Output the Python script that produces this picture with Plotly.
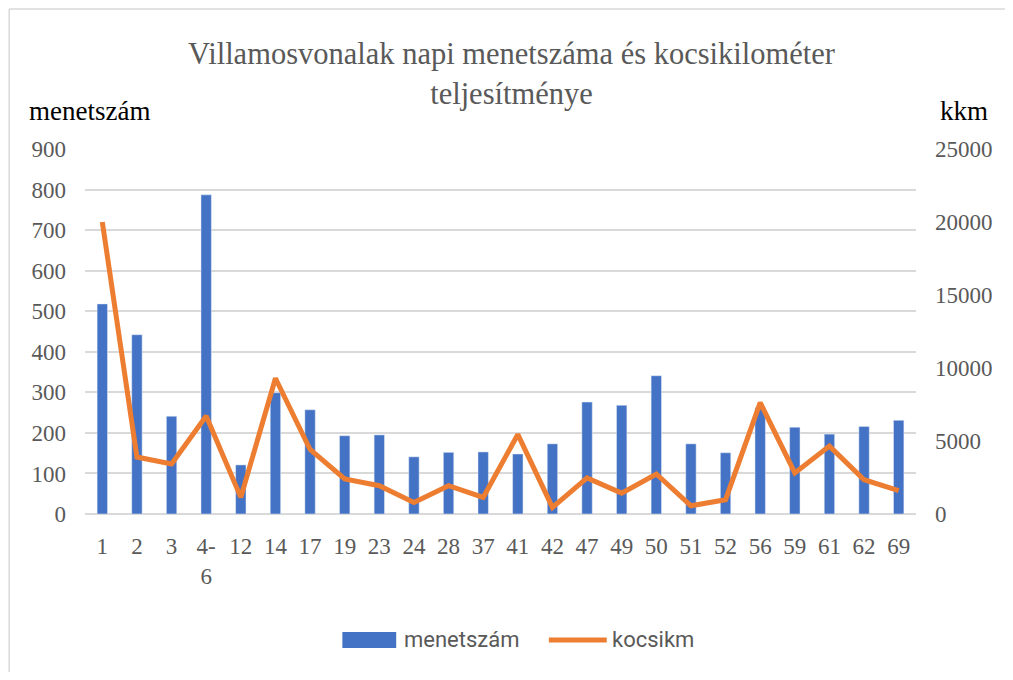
import plotly.graph_objects as go

# -----------------------------
# Data
# -----------------------------

lines = ["1", "2", "3", "4-6", "12", "14", "17", "19", "23", "24", "28", "37",
         "41", "42", "47", "49", "50", "51", "52", "56", "59", "61", "62", "69"]

menetszam = [518, 442, 241, 787, 121, 299, 257, 193, 195, 141, 152, 153,
             148, 173, 276, 268, 341, 173, 151, 262, 214, 197, 216, 231]

kocsikm = [20000, 3900, 3430, 6710, 1140, 9300, 4420, 2400, 1940, 790, 1940, 1140,
           5450, 450, 2470, 1430, 2740, 560, 980, 7630, 2810, 4650, 2350, 1600]

tick_labels = [c.replace("-", "-<br>") for c in lines]

# -----------------------------
# Styles
# -----------------------------

SERIF = "Liberation Serif, Times New Roman, serif"
SANS = "Liberation Sans Narrow, Roboto, sans-serif"
GRAY = "#595959"
BLUE = "#4472C4"
ORANGE = "#ED7D31"

fig = go.Figure()

fig.add_trace(go.Bar(
    x=lines, y=menetszam, name="menetszám",
    marker=dict(color=BLUE), width=0.3, yaxis="y"
))

fig.add_trace(go.Scatter(
    x=lines, y=kocsikm, name="kocsikm", mode="lines",
    line=dict(color=ORANGE, width=5), yaxis="y2"
))

fig.update_layout(
    width=997, height=664,
    paper_bgcolor="white", plot_bgcolor="white",
    margin=dict(l=77, r=87, t=141, b=158),
    showlegend=False,
    xaxis=dict(
        type="category", tickmode="array", tickvals=lines, ticktext=tick_labels,
        tickfont=dict(family=SERIF, size=23, color=GRAY),
        showgrid=False, showline=False, ticks="", ticklabelstandoff=16,
        range=[-0.5, len(lines) - 0.5]
    ),
    yaxis=dict(
        range=[0, 900], dtick=100, tickfont=dict(family=SERIF, size=23, color=GRAY),
        showgrid=True, gridcolor="#d9d9d9", gridwidth=1.5, zeroline=True,
        zerolinecolor="#d9d9d9", zerolinewidth=1.5, ticks="", ticklabelstandoff=18
    ),
    yaxis2=dict(
        range=[0, 25000], dtick=5000, overlaying="y", side="right", tickformat="d",
        tickfont=dict(family=SERIF, size=23, color=GRAY),
        showgrid=False, zeroline=False, ticks="", ticklabelstandoff=18
    ),
)

# title and axis captions
fig.add_annotation(
    text="Villamosvonalak napi menetszáma és kocsikilométer<br>teljesítménye",
    xref="paper", yref="paper", x=0.513, y=1.311, xanchor="center", yanchor="top",
    showarrow=False, font=dict(family=SERIF, size=30.5, color=GRAY)
)
fig.add_annotation(
    text="menetszám", xref="paper", yref="paper", x=-0.0696, y=1.104,
    xanchor="left", yanchor="middle", showarrow=False,
    font=dict(family=SERIF, size=27, color="black")
)
fig.add_annotation(
    text="kkm", xref="paper", yref="paper", x=1.0264, y=1.104,
    xanchor="left", yanchor="middle", showarrow=False,
    font=dict(family=SERIF, size=27, color="black")
)

# legend drawn by hand (wide swatches like the original)
fig.add_shape(type="rect", xref="paper", yref="paper",
              x0=0.3097, x1=0.3745, y0=-0.3671, y1=-0.3233,
              fillcolor=BLUE, line=dict(width=0))
fig.add_annotation(text="menetszám", xref="paper", yref="paper", x=0.381, y=-0.3452,
                   xanchor="left", yanchor="middle", showarrow=False,
                   font=dict(family=SANS, size=22, color=GRAY))
fig.add_shape(type="line", xref="paper", yref="paper",
              x0=0.5582, x1=0.6279, y0=-0.3452, y1=-0.3452,
              line=dict(color=ORANGE, width=5))
fig.add_annotation(text="kocsikm", xref="paper", yref="paper", x=0.6317, y=-0.3452,
                   xanchor="left", yanchor="middle", showarrow=False,
                   font=dict(family=SANS, size=22, color=GRAY))

# chart frame: only the top and left edges show in the original
fig.add_shape(type="line", xref="paper", yref="paper",
              x0=-0.0912, x1=1.2, y0=1.3836, y1=1.3836,
              line=dict(color="#d9d9d9", width=1.5), layer="below")
fig.add_shape(type="line", xref="paper", yref="paper",
              x0=-0.0912, x1=-0.0912, y0=-1.0, y1=1.3836,
              line=dict(color="#d9d9d9", width=1.5), layer="below")

fig.write_html("out.html")
